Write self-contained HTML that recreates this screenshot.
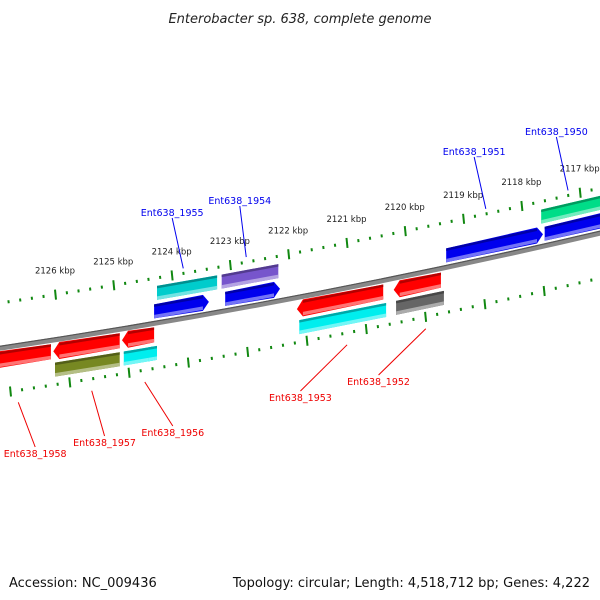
<!DOCTYPE html>
<html><head><meta charset="utf-8"><style>
html,body{margin:0;padding:0;background:#fff;width:600px;height:600px;overflow:hidden}
svg{display:block;font-family:"DejaVu Sans","Liberation Sans",sans-serif}
</style></head><body>
<svg id="map" width="600" height="600" viewBox="0 0 600 600">
<text x="300" y="23" text-anchor="middle" font-size="13" font-style="italic" fill="#222">Enterobacter sp. 638, complete genome</text>
<text x="9" y="587" font-size="13" fill="#111">Accession: NC_009436</text>
<text x="590" y="587" text-anchor="end" font-size="13" fill="#111">Topology: circular; Length: 4,518,712 bp; Genes: 4,222</text>
<g id="layer"></g>
</svg>
<script>
// kbp values
const tickKbp = [2127, 2126, 2125, 2124, 2123, 2122, 2121, 2120, 2119, 2118, 2117, 2116];
const tickLabels = ["", "2126 kbp", "2125 kbp", "2124 kbp", "2123 kbp", "2122 kbp", "2121 kbp", "2120 kbp", "2119 kbp", "2118 kbp", "2117 kbp", ""];
const geneStart = [2127.2, 2126.03, 2124.85, 2121.85, 2120.19, 2124.25, 2123.14, 2117.66, 2124.30, 2123.08, 2119.29, 2117.60, 2126.0, 2124.82, 2121.81, 2120.15, 2124.4];
const geneEnd   = [2126.07, 2124.89, 2124.30, 2120.37, 2119.38, 2123.22, 2122.17, 2116.2, 2123.36, 2122.14, 2117.63, 2116.2, 2124.89, 2124.25, 2120.32, 2119.33, 2124.3];
const geneStrand = ["rev","rev","rev","rev","rev","none","none","none","fwd","fwd","fwd","fwd","none","none","none","none","none"];
const geneRow = ["A","A","A","A","A","U1","U1","U1","U2","U2","U2","U2","B","B","B","B","B"];
const geneColor = ["#ff0000","#ff0000","#ff0000","#ff0000","#ff0000","#00cccc","#7755cc","#00dd88","#0000ee","#0000ee","#0000ee","#0000ee","#778822","#00eeee","#00eeee","#666666","#00eeee"];
const labelNames = ["Ent638_1955","Ent638_1954","Ent638_1951","Ent638_1950","Ent638_1958","Ent638_1957","Ent638_1956","Ent638_1953","Ent638_1952"];
const labelKbp = [2123.80, 2122.72, 2118.61, 2117.20, 2126.63, 2125.37, 2124.46, 2120.99, 2119.64];
const labelSide = ["up","up","up","up","down","down","down","down","down"];
const labelTextKbp = [2123.99, 2122.83, 2118.81, 2117.40, 2126.34, 2125.15, 2123.98, 2121.79, 2120.45];
const labelTextY = [216, 204, 155, 135, 457, 446, 436, 401, 385];

const NS="http://www.w3.org/2000/svg";
const layer=document.getElementById('layer');
function kx(k){return 55+(2126-k)*58.3;}
function by(x){const t=x/600;return 348*(1-t)*(1-t)+2*303.5*t*(1-t)+233*t*t;}
function mk(tag,attrs){const e=document.createElementNS(NS,tag);for(const a in attrs)e.setAttribute(a,attrs[a]);layer.appendChild(e);return e;}
const rowOff={U1:[-37,-23],U2:[-19,-5],A:[4,19],B:[23,37]};

// backbone
let bb=mk('path',{d:'M-5,349 Q300,303.5 605,232',fill:'none',stroke:'#888',"stroke-width":5});


let bb2=mk('path',{d:'M-5,347 Q300,301.5 605,230',fill:'none',stroke:'#555',"stroke-width":1.2});



// ticks
for(let i=0;i<tickKbp.length-1;i++){
  for(let j=0;j<5;j++){
    const k=tickKbp[i]-j*0.2;
    const x=kx(k), y=by(x)-45;
    const xl=10+(2126-k)*59.3, yl=by(xl)+45;
    const h=j===0?5:1.5;
    let t=mk('line',{x1:x,y1:y-h,x2:x+(j===0?1:0.4),y2:y+h,stroke:'#118811',"stroke-width":2});
    
    
    let t2=mk('line',{x1:xl,y1:yl-h,x2:xl+(j===0?1:0.4),y2:yl+h,stroke:'#118811',"stroke-width":2});
    
    
  }
  if(tickLabels[i]){
    const x=kx(tickKbp[i]);
    let l=mk('text',{x:x,y:by(x)-66,"text-anchor":"middle","font-size":8.5,fill:'#222'});
    l.textContent=tickLabels[i];
    
    
  }
}

// genes
function shade(c,f){const n=parseInt(c.slice(1),16);let r=n>>16,g=(n>>8)&255,b=n&255;
  const m=v=>Math.max(0,Math.min(255,Math.round(f>1?v+(255-v)*(f-1):v*f)));return 'rgb('+m(r)+','+m(g)+','+m(b)+')';}
for(let i=0;i<geneStart.length;i++){
  const x1=kx(geneStart[i]), x2=kx(geneEnd[i]);
  const [o1,o2]=rowOff[geneRow[i]];
  const P=(x,o)=>x.toFixed(1)+','+(by(x)+o).toFixed(1);
  const mid=(o1+o2)/2, ah=6;
  let pts;
  if(geneStrand[i]==='fwd'){
    pts=[P(x1,o1),P(x2-ah,o1-1),P(x2,mid),P(x2-ah,o2+1),P(x1,o2)];
  }else if(geneStrand[i]==='rev'){
    pts=[P(x1+ah,o1-1),P(x2,o1),P(x2,o2),P(x1+ah,o2+1),P(x1,mid)];
  }else{
    pts=[P(x1,o1),P(x2,o1),P(x2,o2),P(x1,o2)];
  }
  let g=mk('polygon',{points:pts.join(' '),fill:geneColor[i]});
  
  
  const xa=geneStrand[i]==='rev'?x1+ah:x1, xb=geneStrand[i]==='fwd'?x2-ah:x2;
  let top=mk('polygon',{points:[P(xa,o1),P(xb,o1),P(xb,o1+2.5),P(xa,o1+2.5)].join(' '),fill:shade(geneColor[i],0.7)});
  
  
  let bot=mk('polygon',{points:[P(xa,o2-3.5),P(xb,o2-3.5),P(xb,o2),P(xa,o2)].join(' '),fill:shade(geneColor[i],1.45)});
  
  
}

// labels
for(let i=0;i<labelNames.length;i++){
  const xe=kx(labelKbp[i]);
  const up=labelSide[i]==='up';
  const ye=up?by(xe)-50:by(xe)+57;
  const xt=kx(labelTextKbp[i]);
  const col=up?'#0000ee':'#ee0000';
  let ln=mk('line',{x1:xe,y1:ye,x2:xt,y2:up?labelTextY[i]+2:labelTextY[i]-10,stroke:col,"stroke-width":1});
  
  
  let tx=mk('text',{x:xt,y:labelTextY[i],"text-anchor":"middle","font-size":9.5,fill:col});
  tx.textContent=labelNames[i];
  
  
}
</script>
</body></html>
